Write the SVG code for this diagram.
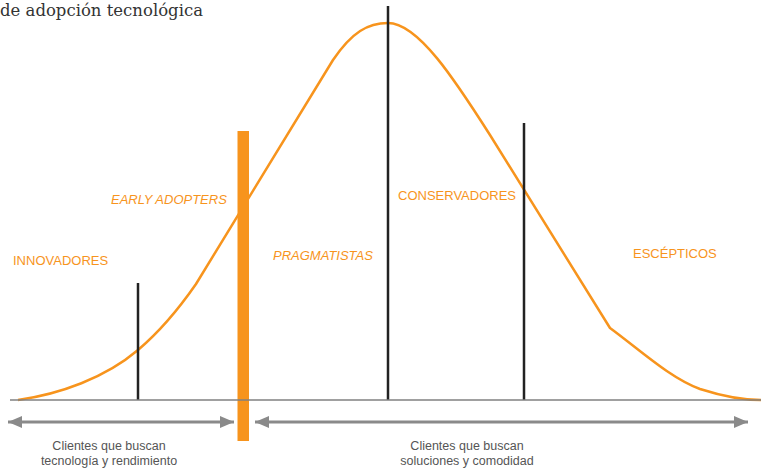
<svg xmlns="http://www.w3.org/2000/svg" width="761" height="470" viewBox="0 0 761 470">
  <style>
    .title { font-family: "DejaVu Serif", "Liberation Serif", serif; font-size: 16.5px; fill: #333333; }
    .seg { font-family: "Liberation Sans", Arial, sans-serif; font-size: 13px; fill: #F7941D; }
    .seg.it { font-style: italic; }
    .note { font-family: "Liberation Sans", Arial, sans-serif; font-size: 12.5px; fill: #555555; text-anchor: middle; }
    .divider { stroke: #222222; stroke-width: 2.5; }
    .span { stroke: #8a8a8a; stroke-width: 3; fill: none; }
  </style>
  <defs>
    <marker id="head" viewBox="0 0 14 12" refX="14" refY="6" markerWidth="14" markerHeight="12" markerUnits="userSpaceOnUse" orient="auto-start-reverse">
      <path d="M0,0 L14,6 L0,12 Z" fill="#8a8a8a"/>
    </marker>
  </defs>

  <rect width="761" height="470" fill="#ffffff"/>

  <text class="title" x="0" y="16" textLength="203" lengthAdjust="spacingAndGlyphs">de adopción tecnológica</text>

  <!-- adoption bell curve -->
  <g id="curve">
    <path d="M18,400 C60,394 105,378 138,350 C158,333 178,310 196,284 L333,60 C352,32 368,23 388,23 C418,23 455,80 490,135 L610,328 C640,350 670,378 700,389 C725,397 745,400 761,400" fill="none" stroke="#F7941D" stroke-width="2.5" stroke-linejoin="round"/>
  </g>

  <!-- chasm bar -->
  <g id="chasm">
    <rect x="237.5" y="131" width="11.5" height="310" fill="#F7941D"/>
  </g>

  <!-- segment dividers -->
  <g id="dividers">
    <line class="divider" x1="138" y1="283" x2="138" y2="400"/>
    <line class="divider" x1="388" y1="6" x2="388" y2="400"/>
    <line class="divider" x1="524" y1="123" x2="524" y2="400"/>
  </g>

  <!-- baseline -->
  <line x1="10" y1="400" x2="761" y2="400" stroke="#808080" stroke-width="1.5"/>

  <!-- segment labels -->
  <g id="innovadores"><text class="seg" x="13" y="265">INNOVADORES</text></g>
  <g id="early-adopters"><text class="seg it" x="111" y="204">EARLY ADOPTERS</text></g>
  <g id="pragmatistas"><text class="seg it" x="273" y="260">PRAGMATISTAS</text></g>
  <g id="conservadores"><text class="seg" x="398" y="200">CONSERVADORES</text></g>
  <g id="escepticos"><text class="seg" x="633" y="258">ESCÉPTICOS</text></g>

  <!-- range arrows -->
  <g id="connectors">
    <line class="span" x1="8" y1="422" x2="234" y2="422" marker-start="url(#head)" marker-end="url(#head)"/>
    <line class="span" x1="255" y1="422" x2="748" y2="422" marker-start="url(#head)" marker-end="url(#head)"/>
  </g>

  <g id="range-left">
    <text class="note" x="109" y="450">Clientes que buscan</text>
    <text class="note" x="109" y="464.5">tecnología y rendimiento</text>
  </g>
  <g id="range-right">
    <text class="note" x="467" y="450">Clientes que buscan</text>
    <text class="note" x="467" y="464.5">soluciones y comodidad</text>
  </g>
</svg>
